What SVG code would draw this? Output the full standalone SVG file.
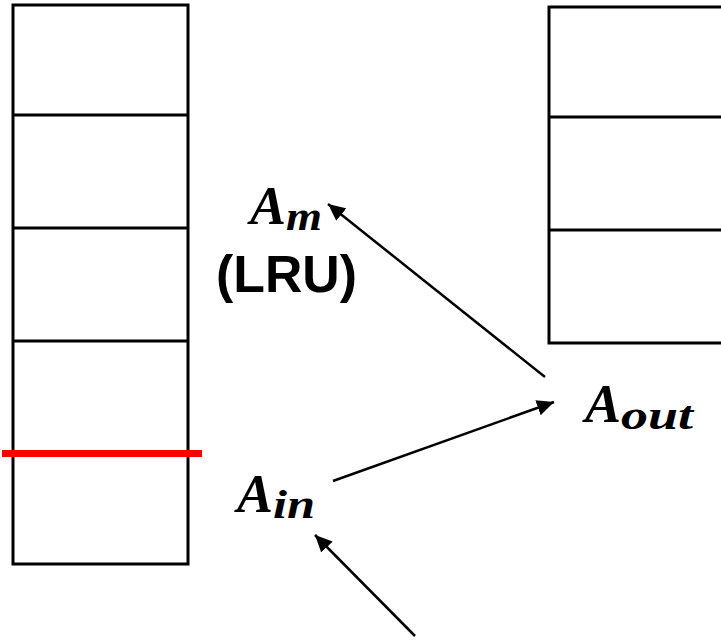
<svg xmlns="http://www.w3.org/2000/svg" width="721" height="642" viewBox="0 0 721 642">
<defs>
<style>
.box{fill:#fff;stroke:#000;stroke-width:3}
.ln{stroke:#000;stroke-width:3}
.arr{stroke:#000;stroke-width:2.5;fill:none}
.mA{font-family:"Liberation Serif","DejaVu Serif",serif;font-weight:bold;font-style:italic;font-size:54px;fill:#000}
.mS{font-family:"Liberation Serif","DejaVu Serif",serif;font-weight:bold;font-style:italic;font-size:40px;fill:#000}
.lbl{font-family:"Liberation Sans","Noto Sans",sans-serif;font-weight:bold;font-size:52px;fill:#000}
</style>
<marker id="ah" markerUnits="userSpaceOnUse" markerWidth="20" markerHeight="16" refX="17" refY="8" orient="auto">
<path d="M0,0 L17,8 L0,16 Z" fill="#000"/>
</marker>
</defs>
<rect width="721" height="642" fill="#fff"/>
<g id="left-stack">
<rect class="box" x="13" y="5" width="175" height="559"/>
<line class="ln" x1="13" y1="115" x2="188" y2="115"/>
<line class="ln" x1="13" y1="228" x2="188" y2="228"/>
<line class="ln" x1="13" y1="341" x2="188" y2="341"/>
<line class="ln" x1="13" y1="454" x2="188" y2="454"/>
</g>
<g id="red-marker">
<line x1="2" y1="453.5" x2="202" y2="453.5" stroke="#ff0000" stroke-width="7"/>
</g>
<g id="right-stack">
<rect class="box" x="549" y="7" width="190" height="336"/>
<line class="ln" x1="549" y1="117" x2="739" y2="117"/>
<line class="ln" x1="549" y1="230" x2="739" y2="230"/>
</g>
<g id="node-Am">
<text x="250" y="224"><tspan class="mA">A</tspan><tspan class="mS" dy="6" textLength="36" lengthAdjust="spacingAndGlyphs">m</tspan></text>
<text class="lbl" x="216" y="292" textLength="141" lengthAdjust="spacingAndGlyphs">(LRU)</text>
</g>
<g id="node-Ain">
<text x="237" y="512"><tspan class="mA">A</tspan><tspan class="mS" dy="6" textLength="42" lengthAdjust="spacingAndGlyphs">in</tspan></text>
</g>
<g id="node-Aout">
<text x="585" y="422"><tspan class="mA">A</tspan><tspan class="mS" dy="7" textLength="72" lengthAdjust="spacingAndGlyphs">out</tspan></text>
</g>
<g id="connectors">
<line class="arr" x1="545" y1="377" x2="328" y2="204" marker-end="url(#ah)"/>
<line class="arr" x1="333" y1="481" x2="554" y2="402" marker-end="url(#ah)"/>
<line class="arr" x1="415" y1="636" x2="315" y2="535" marker-end="url(#ah)"/>
</g>
</svg>
